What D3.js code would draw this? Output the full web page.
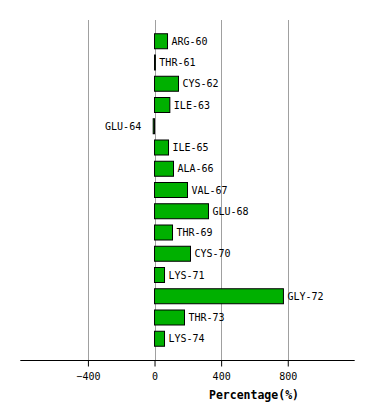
<!DOCTYPE html>
<html>
<head>
<meta charset="utf-8">
<script src="https://cdn.jsdelivr.net/npm/d3@7"></script>
<style>
  body { margin: 0; background: #fff; }
  text { font-family: "DejaVu Sans Mono", monospace; font-size: 10px; }
</style>
</head>
<body>
<div id="chart"></div>
<script>
// residues and their percentage values
var residues = ["ARG-60", "THR-61", "CYS-62", "ILE-63", "GLU-64", "ILE-65", "ALA-66", "VAL-67",
  "GLU-68", "THR-69", "CYS-70", "LYS-71", "GLY-72", "THR-73", "LYS-74"];
var percentages = [78, 5, 144, 92, -8, 84, 114, 198, 324, 108, 216, 60, 774, 180, 60];
var tickValues = [-400, 0, 400, 800];

var svgWidth = 374;
var svgHeight = 420;

var svg = d3.select("#chart")
  .append("svg")
  .attr("width", svgWidth)
  .attr("height", svgHeight);

// scales
var xScale = d3.scaleLinear()
  .domain([-806, 1202])
  .range([20.3, 354.7]);

var yScale = d3.scalePoint()
  .domain(residues)
  .range([20, 360])
  .padding(1);

var barHeight = 15;

// grid lines
svg.append("g")
  .selectAll("line")
  .data(tickValues)
  .enter()
  .append("line")
  .attr("x1", d => Math.round(xScale(d)) + 0.5)
  .attr("x2", d => Math.round(xScale(d)) + 0.5)
  .attr("y1", 20)
  .attr("y2", 360)
  .attr("stroke", "#a0a0a0")
  .attr("stroke-width", 1);

// bars
svg.append("g")
  .selectAll("rect")
  .data(residues)
  .enter()
  .append("rect")
  .attr("x", (d, i) => xScale(Math.min(0, percentages[i])))
  .attr("y", d => yScale(d) - barHeight / 2)
  .attr("width", (d, i) => Math.abs(xScale(percentages[i]) - xScale(0)))
  .attr("height", barHeight)
  .attr("fill", "#00b000")
  .attr("stroke", "#000")
  .attr("stroke-width", 1);

// residue labels
svg.append("g")
  .selectAll("text")
  .data(residues)
  .enter()
  .append("text")
  .attr("x", (d, i) => percentages[i] < 0 ? xScale(percentages[i]) - 12 : xScale(percentages[i]) + 4)
  .attr("y", d => yScale(d))
  .attr("dy", "0.35em")
  .attr("text-anchor", (d, i) => percentages[i] < 0 ? "end" : "start")
  .attr("fill", "#000")
  .text(d => d);

// x axis
var xAxis = d3.axisBottom(xScale)
  .tickValues(tickValues)
  .tickSize(6)
  .tickPadding(6)
  .tickFormat(d3.format("d"));

var axisGroup = svg.append("g")
  .attr("transform", "translate(0, 360.5)")
  .call(xAxis);

axisGroup.select(".domain")
  .attr("d", "M20.3,0H354.7")
  .attr("stroke", "#000");

axisGroup.selectAll(".tick text")
  .attr("font-family", "DejaVu Sans Mono, monospace")
  .attr("font-size", 10)
  .attr("fill", "#000");

// axis title
svg.append("text")
  .attr("x", 254)
  .attr("y", 395)
  .attr("dy", "0.35em")
  .attr("text-anchor", "middle")
  .attr("font-weight", "bold")
  .style("font-size", "11.5px")
  .text("Percentage(%)");
</script>
</body>
</html>
